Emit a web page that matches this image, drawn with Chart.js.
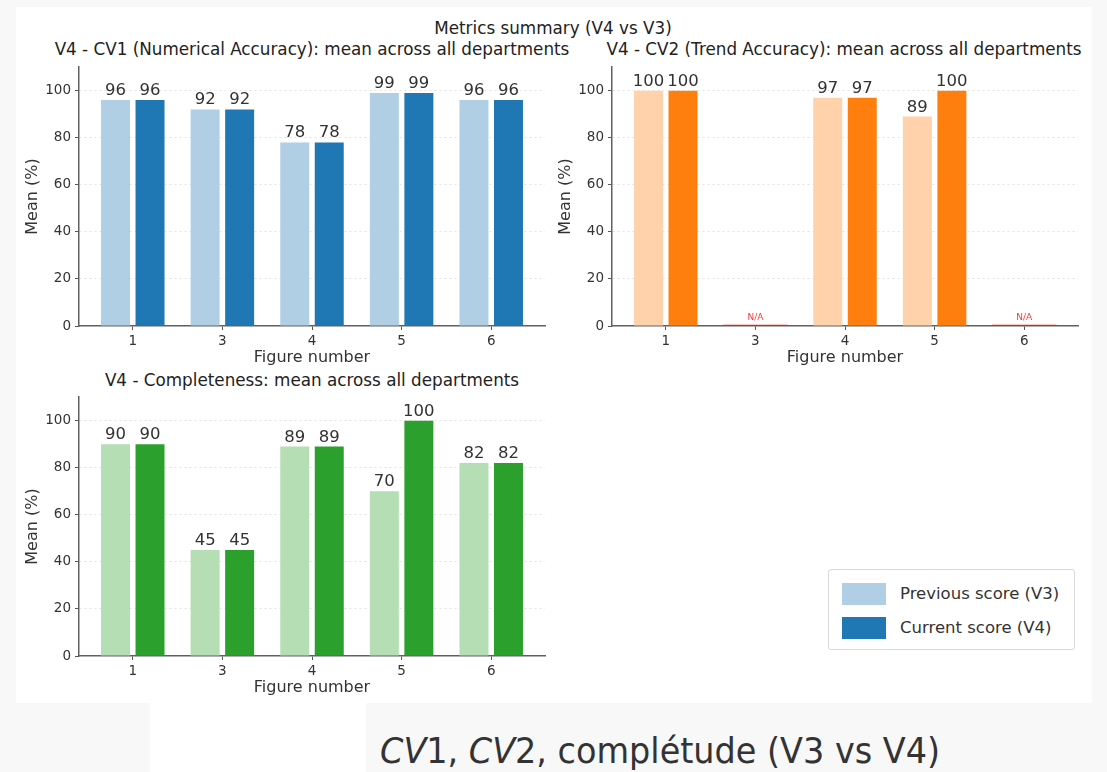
<!DOCTYPE html>
<html>
<head>
<meta charset="utf-8">
<script src="https://cdn.jsdelivr.net/npm/chart.js@4.4.1/dist/chart.umd.min.js"></script>
<style>
  body { margin: 0; width: 1107px; height: 772px; overflow: hidden; position: relative; background: #f8f8f8; font-family: 'DejaVu Sans', sans-serif; color: #333; }
  #panel { position: absolute; left: 16px; top: 7px; width: 1076px; height: 696px; background: #fff; }
  #foot { position: absolute; left: 150px; top: 703px; width: 216px; height: 69px; background: #fff; }
  .title { position: absolute; width: 700px; text-align: center; font-size: 16.8px; line-height: 20px; color: #222; white-space: nowrap; }
  canvas { position: absolute; }
  #legend { position: absolute; left: 828px; top: 569px; width: 245px; height: 79px; border: 1px solid #dadada; border-radius: 3px; background: #fff; }
  .item { position: absolute; left: 13px; height: 22px; font-size: 16.5px; line-height: 22px; color: #333; white-space: nowrap; }
  .item span { position: absolute; left: 0; top: 0; width: 44px; height: 22px; }
  .item b { font-weight: normal; position: absolute; left: 58px; top: 0; }
  #caption { position: absolute; left: 380px; top: 733px; font-family: 'Liberation Sans Narrow', 'DejaVu Sans Condensed', sans-serif; font-size: 36px; line-height: 36px; color: #333; white-space: nowrap; transform-origin: 0 0; }
</style>
</head>
<body>
<div id="panel"></div>
<div id="foot"></div>
<div class="title" style="left:203px; top:18px;">Metrics summary (V4 vs V3)</div>
<div class="title" style="left:-38px; top:39px;">V4 - CV1 (Numerical Accuracy): mean across all departments</div>
<div class="title" style="left:494px; top:39px;">V4 - CV2 (Trend Accuracy): mean across all departments</div>
<div class="title" style="left:-38px; top:370px;">V4 - Completeness: mean across all departments</div>

<canvas id="cv1" width="540" height="315" style="left:20px; top:55px;"></canvas>
<canvas id="cv2" width="540" height="315" style="left:553px; top:55px;"></canvas>
<canvas id="comp" width="540" height="315" style="left:20px; top:385px;"></canvas>

<div id="legend">
  <div class="item" style="top:13px;"><span style="background:#b0cfe5;"></span><b>Previous score (V3)</b></div>
  <div class="item" style="top:47px;"><span style="background:#1f77b4;"></span><b>Current score (V4)</b></div>
</div>

<div id="caption"><i>CV</i>1, <i>CV</i>2, complétude (V3 vs V4)</div>

<script>
const figures = ['1', '3', '4', '5', '6'];
const yTicks = [0, 20, 40, 60, 80, 100];

const cv1Previous = [96, 92, 78, 99, 96];
const cv1Current = [96, 92, 78, 99, 96];

const cv2Previous = [100, null, 97, 89, null];
const cv2Current = [100, null, 97, 100, null];

const completenessPrevious = [90, 45, 89, 70, 82];
const completenessCurrent = [90, 45, 89, 100, 82];

// numbers over the bars, plus the N/A marker where a figure has no score
const barLabels = {
  id: 'barLabels',
  afterDatasetsDraw(chart) {
    const { ctx } = chart;
    ctx.save();
    ctx.font = '16.5px "DejaVu Sans"';
    ctx.fillStyle = '#333';
    ctx.textAlign = 'center';
    ctx.textBaseline = 'bottom';
    chart.data.datasets.forEach((ds, di) => {
      chart.getDatasetMeta(di).data.forEach((bar, i) => {
        const v = ds.data[i].y;
        if (v === null) return;
        ctx.fillText(String(v), bar.x, bar.y - 1);
      });
    });

    const xs = chart.scales.x;
    const y0 = chart.scales.y.getPixelForValue(0);
    const step = xs.getPixelForValue(1) - xs.getPixelForValue(0);
    figures.forEach((f, i) => {
      const missing = chart.data.datasets.every(ds => ds.data[i].y === null);
      if (!missing) return;
      const cx = xs.getPixelForValue(i);
      ctx.strokeStyle = 'rgba(255, 0, 0, 0.3)';
      ctx.lineWidth = 1.5;
      ctx.beginPath();
      ctx.moveTo(cx - step * 0.36, y0 - 1);
      ctx.lineTo(cx + step * 0.36, y0 - 1);
      ctx.stroke();
      ctx.font = '9px "DejaVu Sans"';
      ctx.fillStyle = 'rgba(255, 0, 0, 0.8)';
      ctx.fillText('N/A', cx, y0 - 4);
    });
    ctx.restore();
  }
};

function drawPanel(id, previous, current, light, dark) {
  const ctx = document.getElementById(id).getContext('2d');
  return new Chart(ctx, {
    type: 'bar',
    data: {
      datasets: [
        {
          label: 'Previous score (V3)',
          data: previous.map((v, i) => ({ x: i, y: v })),
          backgroundColor: light,
          categoryPercentage: 0.77,
          barPercentage: 0.84,
        },
        {
          label: 'Current score (V4)',
          data: current.map((v, i) => ({ x: i, y: v })),
          backgroundColor: dark,
          categoryPercentage: 0.77,
          barPercentage: 0.84,
        },
      ],
    },
    options: {
      responsive: false,
      animation: false,
      layout: { padding: { top: 7, right: 15, left: 0, bottom: 0 } },
      plugins: {
        legend: { display: false },
        tooltip: { enabled: false },
      },
      scales: {
        x: {
          type: 'linear',
          min: -0.6,
          max: 4.6,
          offset: false,
          afterBuildTicks: (scale) => { scale.ticks = figures.map((f, i) => ({ value: i })); },
          afterFit: (scale) => { scale.height = 44; },
          ticks: {
            callback: (v) => figures[v],
            color: '#333',
            font: { size: 13.5 },
            padding: 3,
            maxRotation: 0,
            autoSkip: false,
          },
          grid: { offset: false, drawOnChartArea: false, tickLength: 4, color: '#555', tickColor: '#555' },
          border: { color: '#606060', width: 1.5 },
          title: {
            display: true,
            text: 'Figure number',
            color: '#333',
            font: { size: 16 },
            padding: { top: 0, bottom: 3 },
          },
        },
        y: {
          min: 0,
          max: 110,
          afterBuildTicks: (scale) => { scale.ticks = yTicks.map(v => ({ value: v })); },
          afterFit: (scale) => { scale.width = 59; },
          ticks: { color: '#333', font: { size: 13.5 }, padding: 4 },
          grid: {
            color: (c) => (c.tick && c.tick.value === 0 ? 'rgba(0,0,0,0)' : '#e2e2e2'),
            tickColor: '#555',
            tickLength: 4,
          },
          border: { color: '#606060', width: 1.5, dash: [2, 3] },
          title: {
            display: true,
            text: 'Mean (%)',
            color: '#333',
            font: { size: 16 },
            padding: { top: 3, bottom: 0 },
          },
        },
      },
    },
    plugins: [barLabels],
  });
}

Chart.defaults.font.family = '"DejaVu Sans", sans-serif';

drawPanel('cv1', cv1Previous, cv1Current, '#b0cfe5', '#1f77b4');
drawPanel('cv2', cv2Previous, cv2Current, '#ffd2ab', '#ff7f0e');
drawPanel('comp', completenessPrevious, completenessCurrent, '#b5deb5', '#2ca02c');

// stretch the caption to the width it has in the screenshot
const cap = document.getElementById('caption');
cap.style.transform = 'scaleX(' + (560 / cap.getBoundingClientRect().width) + ')';
</script>
</body>
</html>
